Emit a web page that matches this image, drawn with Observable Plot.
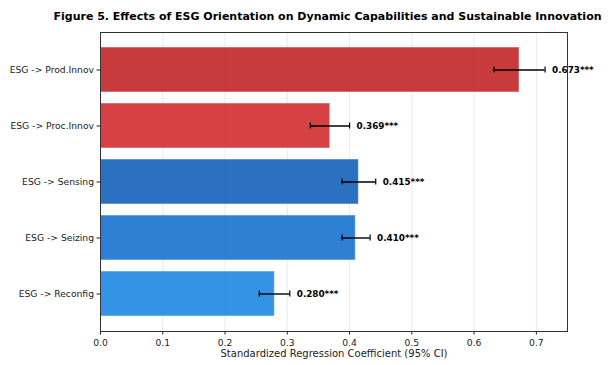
<!DOCTYPE html>
<html>
<head>
<meta charset="utf-8">
<script src="https://cdn.jsdelivr.net/npm/d3@7"></script>
<script src="https://cdn.jsdelivr.net/npm/@observablehq/plot@0.6"></script>
<style>
  html, body { margin: 0; padding: 0; background: #fff; }
  #title { width: 613px; height: 30px; box-sizing: border-box; padding-top: 4px; line-height: 26px;
           font-family: "DejaVu Sans", sans-serif; font-weight: bold; font-size: 11px; color: #000;
           text-align: center; padding-left: 42px; white-space: nowrap; }
  svg { display: block; }
</style>
</head>
<body>
<div id="title">Figure 5. Effects of ESG Orientation on Dynamic Capabilities and Sustainable Innovation</div>
<div id="chart"></div>
<script>
const paths = ["ESG -> Prod.Innov", "ESG -> Proc.Innov", "ESG -> Sensing", "ESG -> Seizing", "ESG -> Reconfig"];
const coefficients = [0.673, 0.369, 0.415, 0.410, 0.280];
const ciLower = [0.632, 0.337, 0.388, 0.388, 0.255];
const ciUpper = [0.714, 0.400, 0.442, 0.433, 0.304];
const significance = ["***", "***", "***", "***", "***"];
const barColors = ["#c22627", "#d12e30", "#1560bb", "#1872d0", "#1f87e3"];
const xTicks = [0, 0.1, 0.2, 0.3, 0.4, 0.5, 0.6, 0.7];

const data = paths.map((p, i) => ({
  path: p, coef: coefficients[i], lo: ciLower[i], hi: ciUpper[i],
  label: coefficients[i].toFixed(3) + significance[i], color: barColors[i]
}));

const chart = Plot.plot({
  width: 613,
  height: 335,
  marginTop: 2,
  marginBottom: 34,
  marginLeft: 100,
  marginRight: 46,
  style: { fontFamily: "DejaVu Sans, sans-serif", fontSize: "9.2px", color: "#222", background: "#fff" },
  x: { domain: [0, 0.75], ticks: xTicks, tickFormat: ".1f", label: null },
  y: { domain: paths, paddingInner: 0.2, paddingOuter: 0.235, label: null },
  marks: [
    Plot.gridX(xTicks, { stroke: "#e3e3e3", strokeOpacity: 1, strokeWidth: 0.8 }),
    Plot.barX(data, { x: "coef", y: "path", fill: d => d.color, fillOpacity: 0.9,
                      stroke: "white", strokeOpacity: 0.5, strokeWidth: 1 }),
    Plot.ruleY(data, { y: "path", x1: "lo", x2: "hi", stroke: "#000", strokeWidth: 1.4 }),
    Plot.tickX(data, { x: "lo", y: "path", insetTop: 19.5, insetBottom: 19.5, stroke: "#000", strokeWidth: 1.2 }),
    Plot.tickX(data, { x: "hi", y: "path", insetTop: 19.5, insetBottom: 19.5, stroke: "#000", strokeWidth: 1.2 }),
    Plot.text(data, { x: "hi", y: "path", text: "label", dx: 7, textAnchor: "start",
                      fontWeight: "bold", fontSize: 8.8, fill: "#000" }),
    Plot.axisX({ ticks: xTicks, tickFormat: ".1f", tickSize: 3.5, tickPadding: 4, label: null, fill: "#222" }),
    Plot.axisY({ tickSize: 3.5, tickPadding: 3, label: null, fill: "#222" }),
    Plot.frame({ stroke: "#333", strokeWidth: 1 }),
    Plot.text(["Standardized Regression Coefficient (95% CI)"], { frameAnchor: "bottom", dy: 25, fontSize: 10, fill: "#222" })
  ]
});
document.getElementById("chart").appendChild(chart);
</script>
</body>
</html>
